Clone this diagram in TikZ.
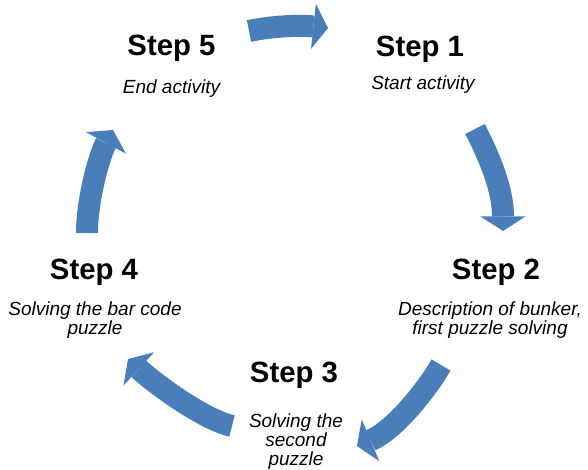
\documentclass[tikz,border=0pt]{standalone}
\usepackage{fontspec}
\setmainfont{Liberation Sans}
\usepackage{tikz}
\usetikzlibrary{arrows.meta}
\definecolor{CycleBlue}{RGB}{74,126,187}

\begin{document}
\begin{tikzpicture}[x=0.75pt, y=-0.75pt,
		title/.style={anchor=base, inner sep=0pt, font=\fontsize{22}{24}\selectfont\bfseries},
		desc/.style={anchor=base, inner sep=0pt, align=center, font=\fontsize{14.25}{14.25}\selectfont\itshape},
		cyclearrow/.style={CycleBlue, line width=16.5pt, -{Triangle[length=11pt, width=34pt, line width=0pt]}}]
				\useasboundingbox (0,0) rectangle (588,470);

				% step 1
				\node[title] (step1) at (420,57) {Step 1};
				\node[desc] (desc1) at (423,90) {Start activity};

				% step 2
				\node[title] (step2) at (496,279) {Step 2};
				\node[desc] (desc2) at (490,334) {Description of bunker,\\first puzzle solving};

				% step 3
				\node[title] (step3) at (294,382) {Step 3};
				\node[desc] (desc3) at (296,465) {Solving the\\second\\puzzle};

				% step 4
				\node[title] (step4) at (94,279) {Step 4};
				\node[desc] (desc4) at (95,334) {Solving the bar code\\puzzle};

				% step 5
				\node[title] (step5) at (171.5,56) {Step 5};
				\node[desc] (desc5) at (171.5,94) {End activity};

				%% arrows:
				\coordinate (tail51) at (249,31);
				\coordinate (tip51) at (328,28);
				\coordinate (tail12) at (475,129);
				\coordinate (tip12) at (503,231);
				\coordinate (tail23) at (441,365);
				\coordinate (tip23) at (357,446);
				\coordinate (tail34) at (232,426);
				\coordinate (tip34) at (128,359);
				\coordinate (tail45) at (87,233);
				\coordinate (tip45) at (113,130);

				\draw[cyclearrow] (tail51) .. controls (273,26) and (300,25) .. (tip51);
				\draw[cyclearrow] (tail12) .. controls (490,158) and (503,190) .. (tip12);
				\draw[cyclearrow] (tail23) .. controls (428,388) and (395,430) .. (tip23);
				\draw[cyclearrow] (tail34) .. controls (202,419) and (153,382) .. (tip34);
				\draw[cyclearrow] (tail45) .. controls (87,200) and (99,156) .. (tip45);
			\end{tikzpicture}
\end{document}
